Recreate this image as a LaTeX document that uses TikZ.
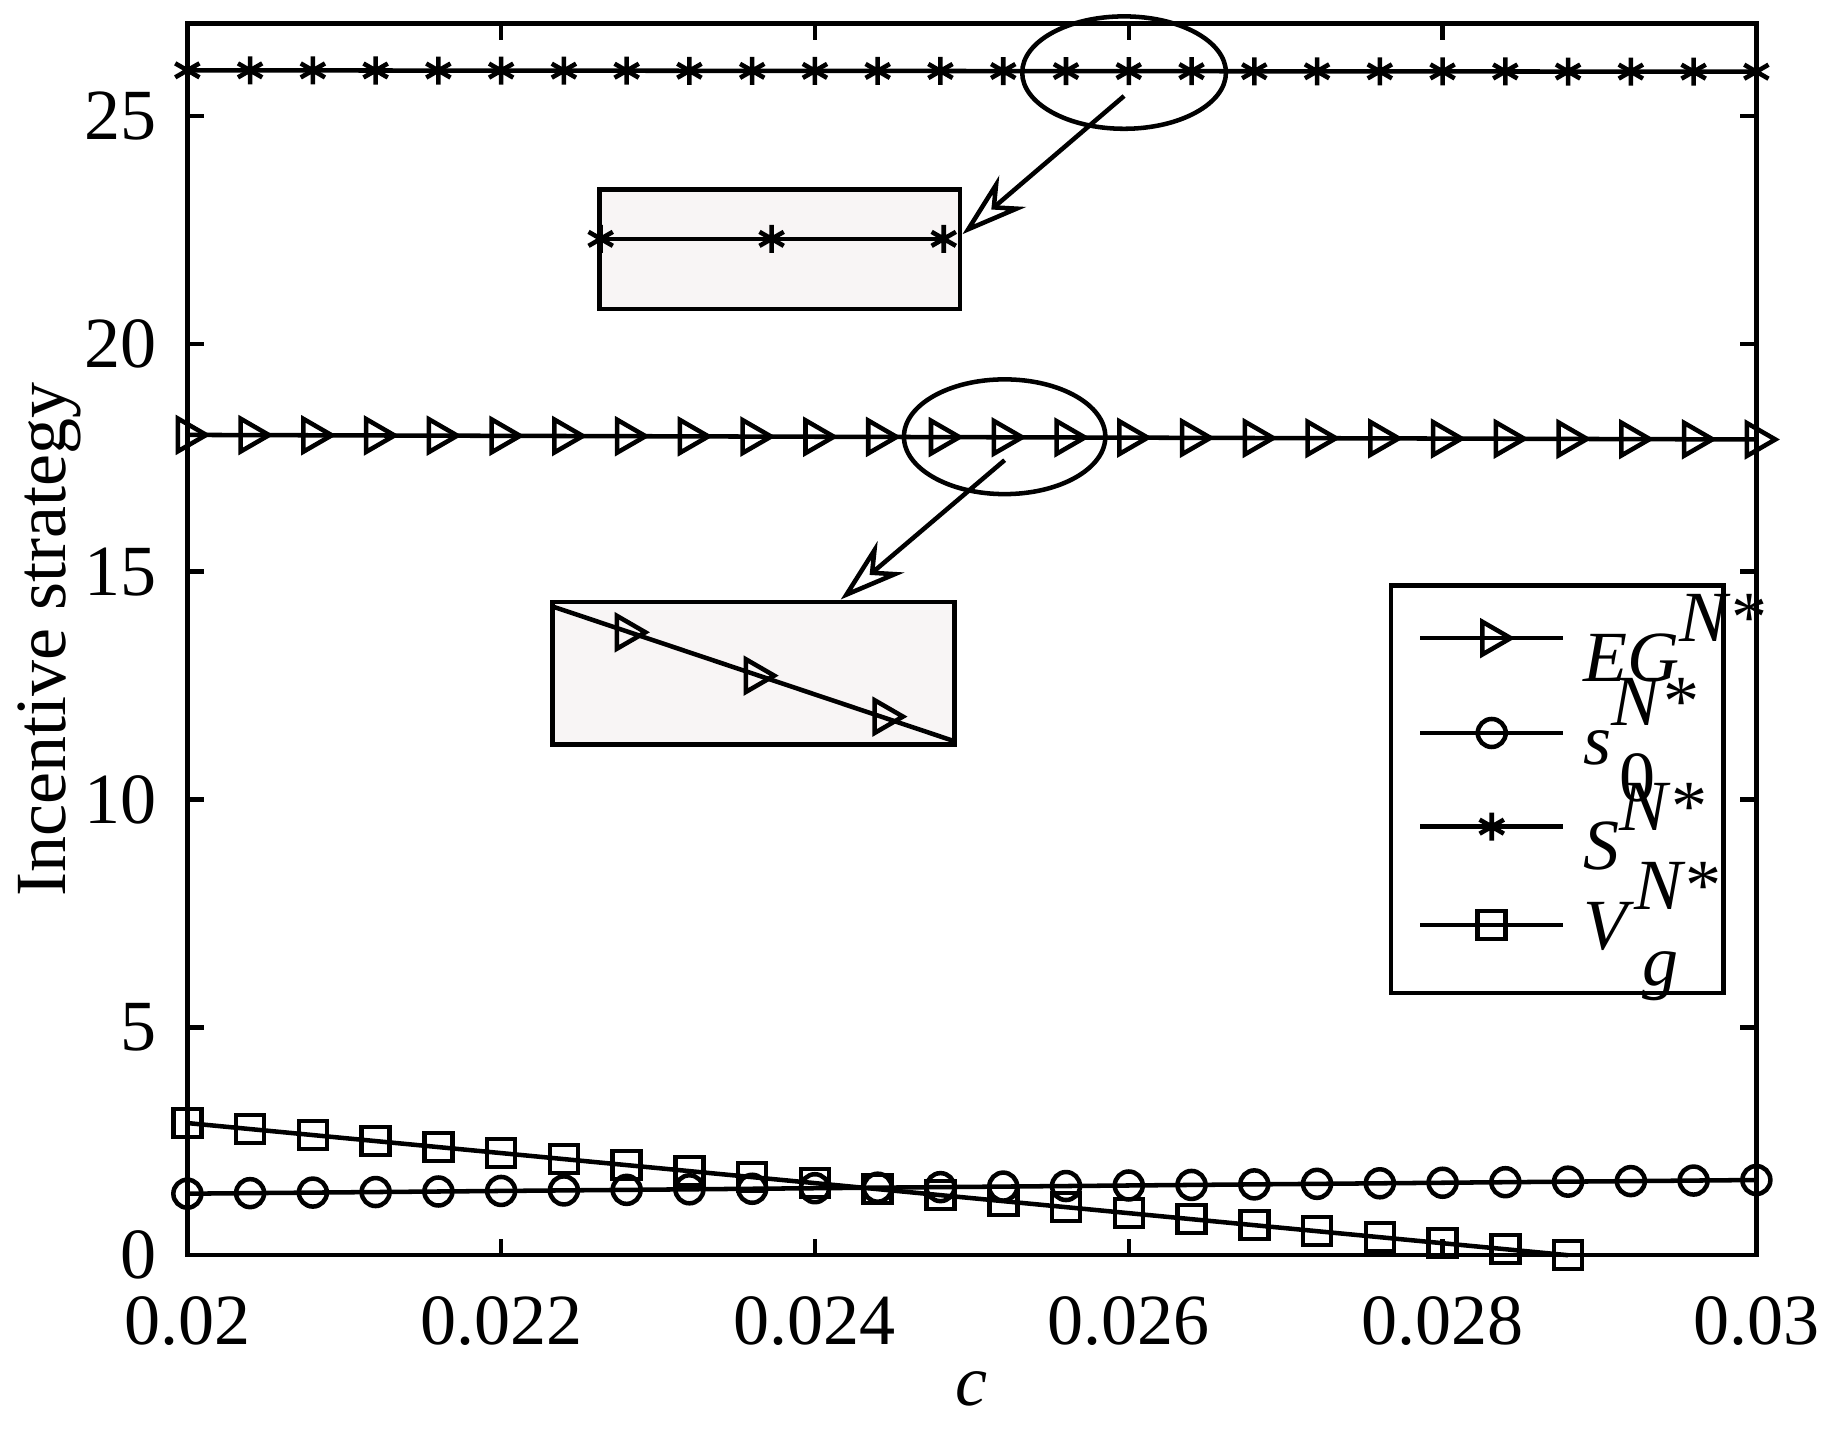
\documentclass[tikz,border=0pt]{standalone}
\usepackage{fontspec}
\setmainfont{Liberation Serif}
\usetikzlibrary{plotmarks,arrows.meta}
\definecolor{inset}{HTML}{F8F5F5}
\begin{document}
\begin{tikzpicture}[x=0.01cm,y=-0.01cm,
  tk/.style={font=\fontsize{17.5}{21}\selectfont},
  ln/.style={line width=1.1pt},
  mk/.style={mark size=3.4pt, mark options={solid,line width=1.1pt,fill=none}},
  tri/.style={mark=triangle,mark size=4.6pt,mark options={rotate=-90,solid,line width=1.1pt,fill=none}}]
\useasboundingbox (0,0) rectangle (1568,1231);
\def\Y#1{1072-38.92*(#1)}
% data
\draw[ln,mk,mark=asterisk] plot[samples at={0,...,25}] ({160+53.6*\x},{\Y{26-0.03*\x/25}});
\draw[ln,tri] plot[samples at={0,...,25}] ({160+53.6*\x},{\Y{18-0.1*\x/25}});
\draw[ln,mk,mark=o] plot[samples at={0,...,25}] ({160+53.6*\x},{\Y{1.35+0.3*\x/25}});
\draw[ln,mk,mark=square] plot[samples at={0,...,22}] ({160+53.6*\x},{\Y{2.9*(22-\x)/22}});
% axes
\draw[line width=1.1pt] (160,20) rectangle (1500,1072);
\foreach \i/\l in {0/0.02,1/0.022,2/0.024,3/0.026,4/0.028,5/0.03}{
  \draw[line width=1.1pt] ({160+268*\i},1072) -- ++(0,-14) ({160+268*\i},20) -- ++(0,14);
  \node[tk] at ({160+268*\i},1128) {\l};}
\foreach \v in {0,5,10,15,20,25}{
  \draw[line width=1.1pt] (160,{\Y{\v}}) -- ++(14,0) (1500,{\Y{\v}}) -- ++(-14,0);
  \node[tk,anchor=east] at (146,{\Y{\v}}) {\v};}
\node[tk,rotate=90] at (42,546) {Incentive strategy};
\node[tk] at (830,1186) {\textit{c}};
% insets
\draw[line width=1.1pt] (960,62) ellipse (87 and 48);
\draw[line width=1.1pt,fill=inset] (512,162) rectangle (820,264);
\draw[ln,mk,mark=asterisk] plot coordinates {(513,204)(659,204)(806,204)};
\draw[-{Stealth[length=16pt,width=10pt,open]},line width=1.1pt] (960,82) -- (822,200);
\draw[line width=1.1pt] (858,373) ellipse (86 and 49);
\draw[line width=1.1pt,fill=inset] (472,514) rectangle (815,636);
\draw[ln] (472,518) -- (815,633);
\draw[ln,tri,only marks] plot coordinates {(535,540)(645,577)(755,612)};
\draw[-{Stealth[length=16pt,width=10pt,open]},line width=1.1pt] (858,393) -- (718,512);
% legend
\draw[line width=1.1pt,fill=white] (1188,500) rectangle (1472,848);
\draw[ln] (1213,545)--(1335,545) (1213,626)--(1335,626) (1213,706)--(1335,706) (1213,790)--(1335,790);
\draw[ln,tri,only marks] plot coordinates {(1274,545)};
\draw[ln,mk,mark=o,only marks] plot coordinates {(1274,626)};
\draw[ln,mk,mark=asterisk,only marks] plot coordinates {(1274,706)};
\draw[ln,mk,mark=square,only marks] plot coordinates {(1274,790)};
\node[tk,anchor=west] at (1340,545) {\textit{EG}\raisebox{1.2ex}{\textit{N}*}};
\node[tk,anchor=west] at (1340,632) {\textit{s}\raisebox{1.2ex}{\textit{N}*}\hspace{-1.1em}\raisebox{-1.1ex}{0}};
\node[tk,anchor=west] at (1340,706) {\textit{S}\raisebox{1.2ex}{\textit{N}*}};
\node[tk,anchor=west] at (1340,796) {\textit{V}\raisebox{1.2ex}{\textit{N}*}\hspace{-1.1em}\raisebox{-1.1ex}{\textit{g}}};
\end{tikzpicture}
\end{document}
